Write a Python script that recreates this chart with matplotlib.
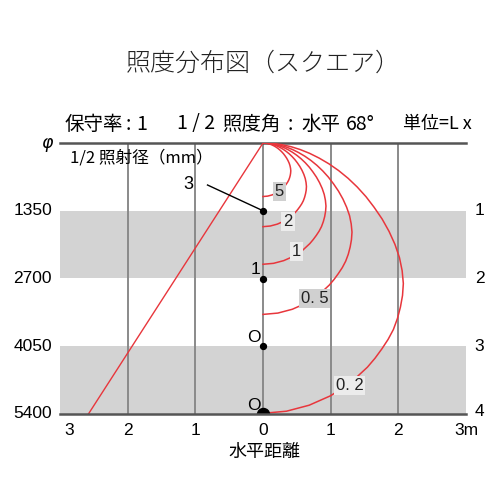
import matplotlib
matplotlib.use("Agg")
import matplotlib.pyplot as plt
import numpy as np

plt.rcParams['font.family'] = ['Noto Sans CJK JP', 'DejaVu Sans']

# ---------------- data ----------------
title = "照度分布図（スクエア）"
header_left_parts = ["保守率", ":", "1"]
header_mid_parts = ["1 / 2", "照度角", ":", "水平", "68°"]
header_right = "単位=L x"
diam_caption = "1/2 照射径（mm）"

depth_levels = [1, 2, 3, 4]                      # m (right labels)
diam_labels = ["1350", "2700", "4050", "5400"]   # 1/2 illuminance diameter (mm)
x_tick_pos = [-3, -2, -1, 0, 1, 2, 3]
x_tick_labels = ["3", "2", "1", "0", "1", "2", "3m"]
xlabel = "水平距離"

# centre illuminance at each depth
center_depth = [1, 2, 3, 4]
center_labels = ["3", "1", "O", "O"]

# 1/2 illuminance angle line (x, depth)
beam_x = [0.0, -2.58]
beam_d = [0.0, 4.0]

# isolux curves: distance from the lamp (m) read at angles from the vertical (deg)
iso_angle = [0, 5, 10, 15, 20, 25, 27.5, 30, 32.5, 35, 37.5, 40, 42.5, 45, 47.5,
             50, 52.5, 55, 57.5, 60, 62.5, 65, 67.5, 70, 72.5, 75, 77.5, 80,
             82.5, 85, 87.5, 90]
iso_labels = ["5", "2", "1", "0. 5", "0. 2"]
iso5_r = [0.790, 0.787, 0.778, 0.765, 0.747, 0.723, 0.709, 0.695, 0.681, 0.665,
          0.646, 0.626, 0.604, 0.581, 0.552, 0.521, 0.487, 0.450, 0.413, 0.375,
          0.340, 0.304, 0.269, 0.235, 0.202, 0.170, 0.140, 0.111, 0.083, 0.055,
          0.028, 0]
iso2_r = [1.235, 1.230, 1.216, 1.195, 1.167, 1.130, 1.109, 1.087, 1.065, 1.040,
          1.010, 0.978, 0.945, 0.908, 0.863, 0.815, 0.761, 0.704, 0.646, 0.587,
          0.531, 0.475, 0.421, 0.368, 0.316, 0.266, 0.219, 0.173, 0.130, 0.086,
          0.043, 0]
iso1_r = [1.790, 1.783, 1.763, 1.733, 1.692, 1.638, 1.607, 1.575, 1.543, 1.507,
          1.464, 1.418, 1.369, 1.316, 1.251, 1.181, 1.103, 1.020, 0.936, 0.850,
          0.770, 0.689, 0.610, 0.533, 0.458, 0.385, 0.317, 0.251, 0.188, 0.125,
          0.063, 0]
iso05_r = [2.530, 2.520, 2.492, 2.449, 2.391, 2.315, 2.272, 2.226, 2.181, 2.130,
           2.070, 2.004, 1.935, 1.860, 1.768, 1.670, 1.558, 1.442, 1.323, 1.202,
           1.088, 0.974, 0.863, 0.754, 0.648, 0.544, 0.448, 0.354, 0.266, 0.177,
           0.089, 0]
iso02_r = [3.990, 3.974, 3.930, 3.862, 3.771, 3.651, 3.583, 3.511, 3.439, 3.360,
           3.264, 3.160, 3.052, 2.933, 2.789, 2.633, 2.458, 2.274, 2.087, 1.895,
           1.716, 1.536, 1.361, 1.189, 1.021, 0.858, 0.706, 0.559, 0.419, 0.279,
           0.140, 0]
iso_label_x = [0.24, 0.37, 0.50, 0.76, 1.28]
iso_label_d = [0.72, 1.165, 1.60, 2.30, 3.585]

# ---------------- styles ----------------
RED = "#e8363c"
GRID = "#8a8a8a"
BAND = "#d3d3d3"

fig = plt.figure(figsize=(5, 5), dpi=100)
W, H = 500, 500
L, R, T, B = 60, 466, 143, 414
ax = fig.add_axes([L / W, 1 - B / H, (R - L) / W, (B - T) / H])
ax.set_xlim(-3, 3)
ax.set_ylim(4, 0)
for s in ax.spines.values():
    s.set_visible(False)
ax.set_xticks([])
ax.set_yticks([])

# bands
ax.axhspan(1, 2, color=BAND, lw=0, zorder=0)
ax.axhspan(3, 4, color=BAND, lw=0, zorder=0)
for gx in [-2, -1, 0, 1, 2]:
    ax.axvline(gx, color=GRID, lw=1.4, zorder=1)
ax.axhline(0, color="#555555", lw=1.8, zorder=2, clip_on=False)
ax.axhline(4, color="#555555", lw=1.8, zorder=5, clip_on=False)

# beam line
ax.plot(beam_x, beam_d, color=RED, lw=1.0, zorder=3)

# isolux curves (polar -> x / depth)
ang = np.radians(iso_angle)
for rr in [iso5_r, iso2_r, iso1_r, iso05_r, iso02_r]:
    rr = np.asarray(rr)
    ax.plot(rr * np.sin(ang), rr * np.cos(ang), color=RED, lw=1.1, zorder=3,
            solid_joinstyle='round')

box_cols = ["#d0d0d0", "#ececec", "#ececec", "#d0d0d0", "#ececec"]
for lab, lx, ld, bc in zip(iso_labels, iso_label_x, iso_label_d, box_cols):
    ax.text(lx, ld, lab, ha="center", va="center", fontsize=12, zorder=6,
            family=['Liberation Sans', 'DejaVu Sans'], color="#222222",
            bbox=dict(boxstyle="square,pad=0.12", fc=bc, ec="none"))

# centre points
ax.scatter([0, 0, 0], center_depth[:3], s=18, color="black", zorder=7)
ax.scatter([0], [center_depth[3]], s=75, color="black", zorder=4)
ax.plot([-0.82, 0], [0.62, 1.0], color="black", lw=1.0, zorder=6)
ax.text(-1.03, 0.61, center_labels[0], ha="right", va="center", fontsize=13,
        family=['Liberation Sans'])
for d, lab in zip(center_depth[1:], center_labels[1:]):
    ax.text(-0.04, d - 0.13, lab, ha="right", va="center", fontsize=12.5,
            family=['Liberation Sans'], zorder=7)

# ---------------- texts ----------------
def fx(px):
    return px / W

def fy(py):
    return 1 - py / H

fig.text(fx(263), fy(63), title, ha="center", va="center", fontsize=18,
         color="#222222", fontweight=300)
for part, px in zip(header_left_parts, [65, 126, 136]):
    fig.text(fx(px), fy(124), part, ha="left", va="center", fontsize=14)
for part, px in zip(header_mid_parts, [177, 222, 288, 301, 346]):
    fig.text(fx(px), fy(124), part, ha="left", va="center", fontsize=14)
fig.text(fx(403), fy(124), header_right, ha="left", va="center", fontsize=13)
fig.text(fx(70), fy(158), diam_caption, ha="left", va="center", fontsize=12)

fig.text(fx(47), fy(143), "φ", ha="center", va="center", fontsize=12.5,
         family=['DejaVu Sans'], style="italic")
for d, lab in zip(depth_levels, diam_labels):
    ax.text(-3.12, d, lab, ha="right", va="center", fontsize=12.5,
            family=['Liberation Sans'], clip_on=False)
    ax.text(3.13, d - (0.03 if d == 4 else 0), str(d), ha="left", va="center",
            fontsize=12.5, family=['Liberation Sans'], clip_on=False)

for xp, lab in zip(x_tick_pos, x_tick_labels):
    if xp == -3:
        ax.text(-2.87, 4.24, lab, ha="center", va="center", fontsize=12.5,
                family=['Liberation Sans'], clip_on=False)
    elif xp == 3:
        ax.text(2.83, 4.24, lab, ha="left", va="center", fontsize=12.5,
                family=['Liberation Sans'], clip_on=False)
    else:
        ax.text(xp, 4.24, lab, ha="center", va="center", fontsize=12.5,
                family=['Liberation Sans'], clip_on=False)
fig.text(fx(264), fy(452), xlabel, ha="center", va="center", fontsize=13)

fig.savefig("out.png", dpi=100, facecolor="white")
